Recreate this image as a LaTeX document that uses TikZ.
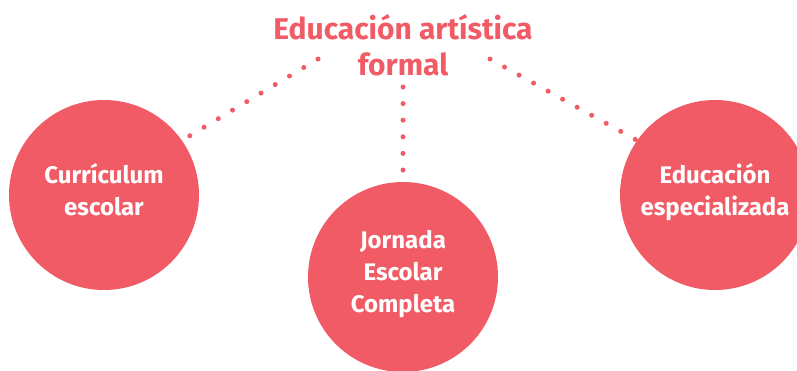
\documentclass[tikz,border=0pt]{standalone}
\usepackage{fontspec}
\setmainfont{Fira Sans}
\usepackage{tikz}
\usetikzlibrary{shapes.geometric}
\definecolor{coral}{RGB}{240,91,101}

\begin{document}
\begin{tikzpicture}[x=1pt,y=-1pt]
\tikzstyle{bubble}=[circle, fill=coral, draw=none, minimum size=190pt, inner sep=0pt,
    align=center, text=white, text depth=12pt, font=\bfseries\fontsize{24}{32}\selectfont]
\tikzstyle{dotline}=[draw=coral, line width=5pt, line cap=round,
    dash pattern=on 0pt off 16.6pt]

\useasboundingbox (0,0) rectangle (797,370);

\node[text=coral, align=center, font=\bfseries\fontsize{30}{36}\selectfont]
    (title) at (403,45) {Educación artística\\formal};

\node[bubble] (cur) at (104,195) {Currículum\\escolar};
\node[bubble] (jec) at (403,277) {Jornada\\Escolar\\Completa};
\node[bubble] (esp) at (715,195) {Educación\\especializada};

\coordinate (tl) at (318,59);
\coordinate (tm) at (403,87);
\coordinate (tr) at (490,59);

\draw[dotline, shorten >=7pt] (tl)--(cur.35);
\draw[dotline, shorten >=10pt] (tm)--(jec.north);
\draw[dotline, shorten >=1pt] (tr)--(esp.145);
\end{tikzpicture}
\end{document}
